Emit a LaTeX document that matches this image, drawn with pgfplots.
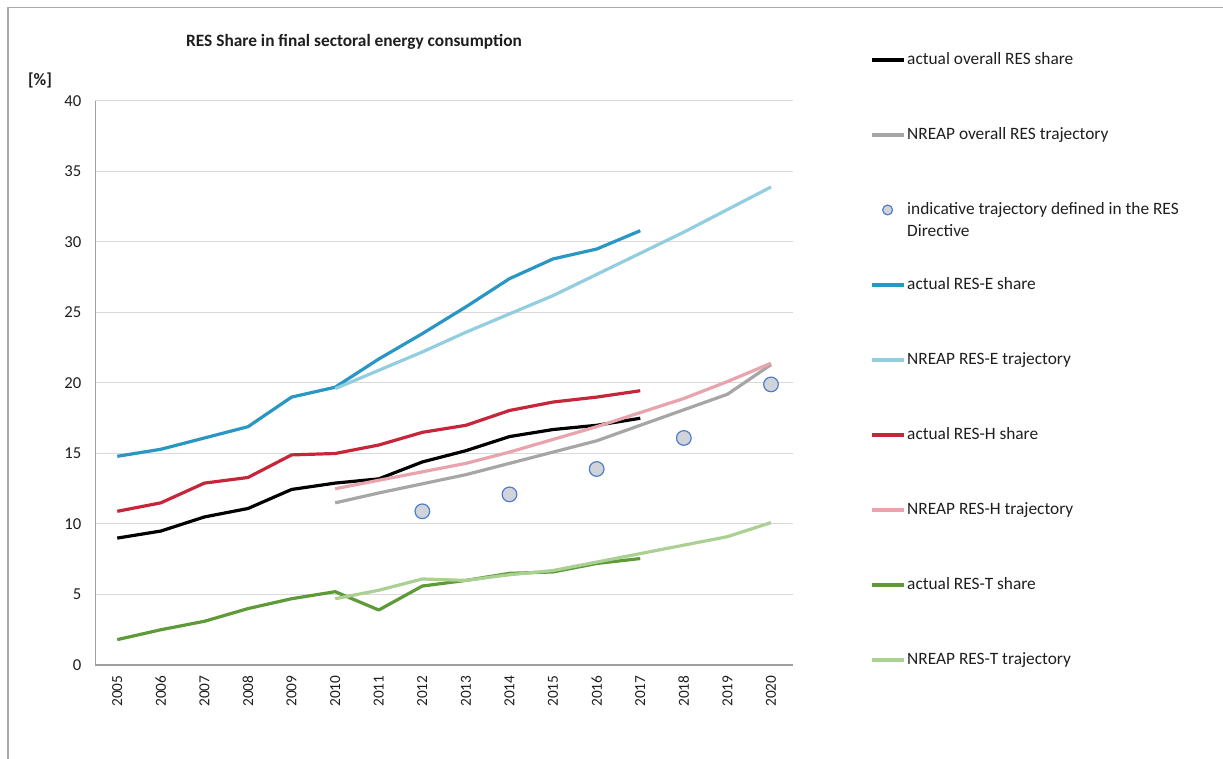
\documentclass[border=0pt]{standalone}
\usepackage{fontspec}
\setmainfont{Carlito}
\usepackage{pgfplots}
\pgfplotsset{compat=1.18}
\definecolor{frame}{RGB}{170,170,170}
\definecolor{axisgray}{RGB}{160,160,160}
\definecolor{gridgray}{RGB}{217,217,217}
\definecolor{ticktext}{RGB}{30,30,30}
\definecolor{cBlack}{RGB}{0,0,0}
\definecolor{cGray}{RGB}{166,166,166}
\definecolor{cBlue}{RGB}{41,150,196}
\definecolor{cLBlue}{RGB}{147,205,224}
\definecolor{cRed}{RGB}{198,38,58}
\definecolor{cPink}{RGB}{232,163,173}
\definecolor{cGreen}{RGB}{94,155,56}
\definecolor{cLGreen}{RGB}{170,208,146}
\definecolor{circfill}{RGB}{208,212,218}
\definecolor{circedge}{RGB}{79,124,200}
\pgfplotsset{circlegend/.style={legend image code/.code={\draw[##1, mark size=3.7pt] plot coordinates {(12pt,0pt)};}}}
\begin{document}
\begin{tikzpicture}
\path[use as bounding box] (0pt,0pt) rectangle (917.25pt,569.25pt);
\draw[frame, line width=0.9pt] (6pt,0pt) -- (6pt,563.6pt) -- (917.25pt,563.6pt);
\node[font=\bfseries\fontsize{13}{15}\selectfont, text=ticktext] at (265.5pt,537.75pt) {RES Share in final sectoral energy consumption};
\node[font=\bfseries\fontsize{13}{15}\selectfont, text=ticktext] at (30pt,509.25pt) {[\%]};
\begin{axis}[
  at={(71.6pt,70.5pt)}, anchor=south west, scale only axis,
  width=523pt, height=423pt,
  xmin=2004.5, xmax=2020.5, ymin=0, ymax=40,
  xtick={2005,...,2020}, ytick={0,5,...,40},
  axis x line*=bottom, axis y line*=left,
  axis line style={draw=axisgray, line width=0.9pt},
  ymajorgrids, grid style={gridgray, line width=0.75pt},
  major tick length=0pt,
  /pgf/number format/assume math mode=true,
  /pgf/number format/1000 sep={},
  x tick label style={rotate=90, anchor=east, inner sep=0pt, outer sep=0pt, xshift=-8pt, font=\fontsize{11.5}{13}\selectfont, text=ticktext},
  y tick label style={anchor=east, inner sep=0pt, xshift=-10.5pt, font=\fontsize{12.5}{14}\selectfont, text=ticktext},
  every axis plot/.append style={line width=2.4pt, line join=round, mark=none},
  legend style={at={(axis description cs:1.1107,1.0875)}, anchor=north west,
    draw=none, fill=none, inner sep=0pt, outer sep=0pt,
    row sep=43.75pt, column sep=1.5pt,
    font=\fontsize{13}{16.5}\selectfont, text=ticktext,
    nodes={inner sep=0pt, text height=9.5pt, text depth=3pt}},
  legend cell align=left,
  legend image code/.code={\draw[#1] (0pt,0pt) -- (24pt,0pt);},
]
\addplot[cBlack] coordinates {(2005,9.0) (2006,9.5) (2007,10.5) (2008,11.1) (2009,12.45) (2010,12.9) (2011,13.2) (2012,14.4) (2013,15.2) (2014,16.2) (2015,16.7) (2016,17.0) (2017,17.5)};
\addlegendentry{actual overall RES share}
\addplot[cGray] coordinates {(2010,11.5) (2011,12.2) (2012,12.85) (2013,13.5) (2014,14.3) (2015,15.1) (2016,15.9) (2017,17.0) (2018,18.1) (2019,19.2) (2020,21.3)};
\addlegendentry{NREAP overall RES trajectory}
\addplot[only marks, mark=*, mark size=5.5pt, mark options={fill=circfill, draw=circedge, line width=0.9pt}, circlegend]
  coordinates {(2012,10.9) (2014,12.1) (2016,13.9) (2018,16.1) (2020,19.9)};
\addlegendentry{\parbox[t]{260pt}{\raggedright indicative trajectory defined in the RES\\Directive}}
\addplot[cBlue] coordinates {(2005,14.8) (2006,15.3) (2007,16.1) (2008,16.9) (2009,19.0) (2010,19.7) (2011,21.7) (2012,23.5) (2013,25.4) (2014,27.4) (2015,28.8) (2016,29.5) (2017,30.8)};
\addlegendentry{actual RES-E share}
\addplot[cLBlue] coordinates {(2010,19.6) (2011,20.9) (2012,22.2) (2013,23.6) (2014,24.9) (2015,26.2) (2016,27.7) (2017,29.2) (2018,30.7) (2019,32.3) (2020,33.9)};
\addlegendentry{NREAP RES-E trajectory}
\addplot[cRed] coordinates {(2005,10.9) (2006,11.5) (2007,12.9) (2008,13.3) (2009,14.9) (2010,15.0) (2011,15.6) (2012,16.5) (2013,17.0) (2014,18.05) (2015,18.65) (2016,19.0) (2017,19.45)};
\addlegendentry{actual RES-H share}
\addplot[cPink] coordinates {(2010,12.5) (2011,13.1) (2012,13.7) (2013,14.3) (2014,15.1) (2015,16.0) (2016,16.9) (2017,17.9) (2018,18.9) (2019,20.1) (2020,21.4)};
\addlegendentry{NREAP RES-H trajectory}
\addplot[cGreen] coordinates {(2005,1.8) (2006,2.5) (2007,3.1) (2008,4.0) (2009,4.7) (2010,5.2) (2011,3.9) (2012,5.6) (2013,6.0) (2014,6.5) (2015,6.6) (2016,7.2) (2017,7.55)};
\addlegendentry{actual RES-T share}
\addplot[cLGreen] coordinates {(2010,4.7) (2011,5.3) (2012,6.1) (2013,6.0) (2014,6.4) (2015,6.7) (2016,7.3) (2017,7.9) (2018,8.5) (2019,9.1) (2020,10.1)};
\addlegendentry{NREAP RES-T trajectory}
\end{axis}
\end{tikzpicture}
\end{document}
